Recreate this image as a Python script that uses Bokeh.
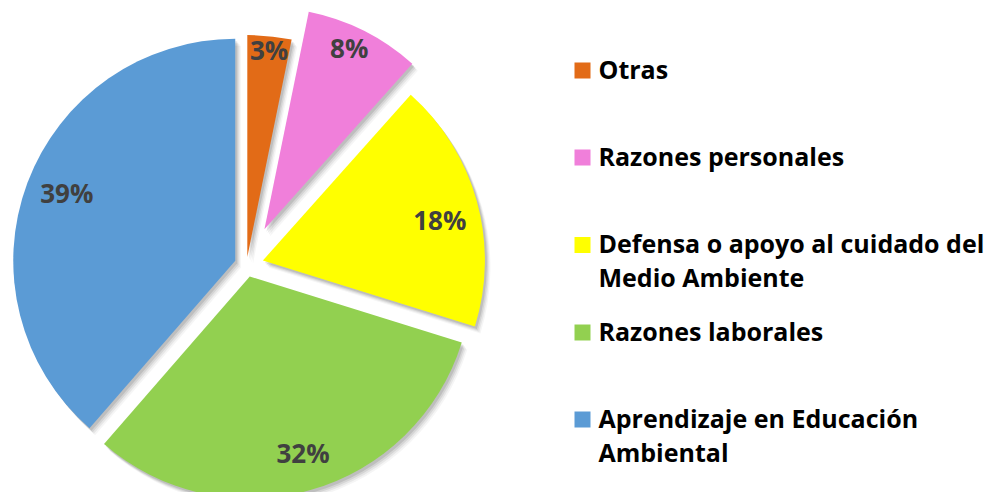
import math
from bokeh.plotting import figure
from bokeh.models import Range1d, ColumnDataSource
from bokeh.embed import file_html
from bokeh.resources import INLINE
from bokeh.core.properties import value

# ---- data ----
categories = ["Otras", "Razones personales",
              "Defensa o apoyo al cuidado del Medio Ambiente",
              "Razones laborales", "Aprendizaje en Educación Ambiental"]
legend_lines = [["Otras"], ["Razones personales"],
                ["Defensa o apoyo al cuidado del", "Medio Ambiente"],
                ["Razones laborales"], ["Aprendizaje en Educación", "Ambiental"]]
percent = [3.2, 8.4, 18.2, 31.6, 38.6]
colors = ["#E26B17", "#F07FDA", "#FFFF00", "#92D050", "#5B9BD5"]

# ---- layout (pixel space; x data == screen x, y data == H - screen y) ----
W, H = 991, 492
def sy(s):
    return H - s

R = 222
CX, CY = 246.0, 264.5          # screen coords of pie centre
explode = [8, 40, 17, 12, 12]  # px
label_r = [206, 198, 181, 186, 181]
label_da = [0.3, -1.3, 3.3, -0.8, 0.9]  # deg
TEXT_SHIFT = 2                 # px upward correction for "middle" baseline
FONT = "Open Sans"

p = figure(width=W, height=H, output_backend="svg", toolbar_location=None,
           x_range=Range1d(0, W), y_range=Range1d(0, H),
           min_border=0, outline_line_color=None)
p.axis.visible = False
p.grid.visible = False
p.background_fill_color = "white"
p.border_fill_color = "white"

total = sum(percent)
cum = 0.0
xs, ys, starts, ends, lx, ly, labels = [], [], [], [], [], [], []
for v, d, lr, da in zip(percent, explode, label_r, label_da):
    t1 = cum / total * 360.0
    cum += v
    t2 = cum / total * 360.0
    mid = math.radians((t1 + t2) / 2)
    cx = CX + d * math.sin(mid)
    cy = sy(CY) + d * math.cos(mid)
    xs.append(cx)
    ys.append(cy)
    starts.append(math.radians(90 - t2))
    ends.append(math.radians(90 - t1))
    la = mid + math.radians(da)
    lx.append(cx + lr * math.sin(la))
    ly.append(cy + lr * math.cos(la) + TEXT_SHIFT)
    labels.append(f"{v / total * 100:.0f}%")

src = ColumnDataSource(dict(x=xs, y=ys, start=starts, end=ends, color=colors,
                            lx=lx, ly=ly, label=labels))

# soft shadows
for off, a in [(7, 0.04), (5.5, 0.06), (4, 0.08), (2.5, 0.1)]:
    sh = ColumnDataSource(dict(x=[x + off * 0.8 for x in xs],
                               y=[y - off for y in ys],
                               start=starts, end=ends))
    p.wedge(x="x", y="y", radius=R, radius_units="data", start_angle="start",
            end_angle="end", source=sh, fill_color="#000000", fill_alpha=a,
            line_color=None)

p.wedge(x="x", y="y", radius=R, radius_units="data", start_angle="start",
        end_angle="end", source=src, fill_color="color", line_color=None)

p.text(x="lx", y="ly", text="label", source=src, text_align="center",
       text_baseline="middle", text_font=value(FONT), text_font_style="bold",
       text_font_size="26px", text_color="#404040")

# legend
row_c = [70, 157, 244.5, 332, 419]
LINE_H = 34
sq_x, sq_s, tx = 582, 16, 598
p.rect(x=[sq_x] * len(colors), y=[sy(c) for c in row_c], width=sq_s, height=sq_s,
       fill_color=colors, line_color=None)
tx_l, ty_l, tt_l = [], [], []
for c, lines in zip(row_c, legend_lines):
    for i, line in enumerate(lines):
        tx_l.append(tx)
        ty_l.append(sy(c + LINE_H * i) + TEXT_SHIFT)
        tt_l.append(line)
p.text(x=tx_l, y=ty_l, text=tt_l, text_align="left", text_baseline="middle",
       text_font=value(FONT), text_font_style="bold", text_font_size="25px",
       text_color="#000000")

open("out.html", "w").write(file_html(p, INLINE))
